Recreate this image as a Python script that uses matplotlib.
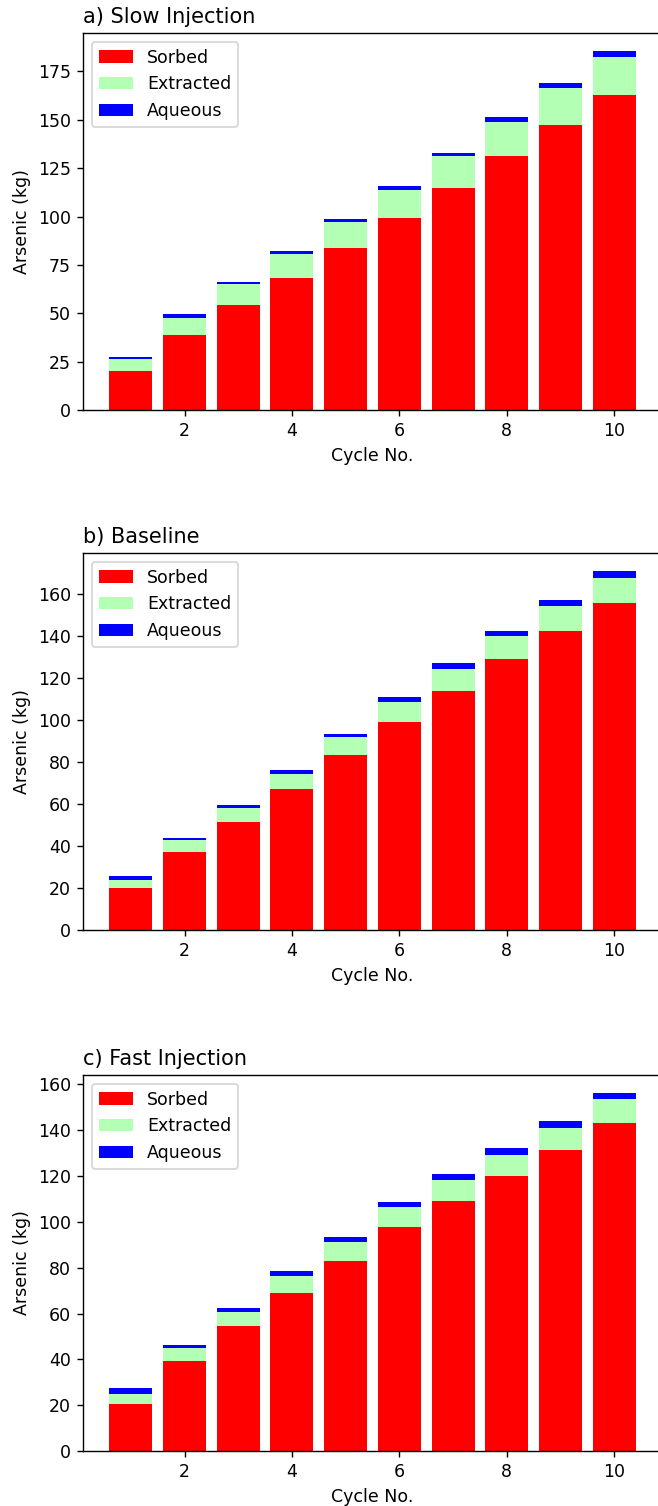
import numpy as np
import matplotlib
matplotlib.use("Agg")
import matplotlib.pyplot as plt

# Ciclos
ciclos = np.arange(1, 11)

# a) Slow Injection
slow_sorbed = [20.4, 38.8, 54.2, 68.2, 83.5, 99.0, 114.8, 131.3, 147.5, 162.9]
slow_extracted = [5.9, 8.5, 10.7, 12.3, 13.6, 14.8, 16.3, 17.4, 18.9, 19.6]
slow_aqueous = [1.1, 2.2, 1.4, 1.8, 1.6, 2.0, 1.9, 2.5, 2.8, 3.1]

# b) Baseline
base_sorbed = [20.1, 37.0, 51.5, 67.0, 83.3, 99.2, 114.0, 128.9, 142.6, 155.5]
base_extracted = [3.8, 5.7, 6.6, 7.3, 8.4, 9.6, 10.1, 11.0, 11.6, 12.0]
base_aqueous = [1.8, 1.3, 1.2, 1.8, 1.6, 2.0, 3.0, 2.7, 3.1, 3.5]

# c) Fast Injection
fast_sorbed = [20.7, 39.2, 54.4, 69.0, 82.9, 97.8, 109.2, 120.0, 131.3, 143.1]
fast_extracted = [4.1, 5.6, 6.4, 7.4, 8.2, 8.9, 9.2, 9.4, 9.8, 10.4]
fast_aqueous = [2.9, 1.4, 1.4, 2.0, 2.5, 1.9, 2.3, 2.8, 2.9, 2.8]

paneles = [
    ("a) Slow Injection", slow_sorbed, slow_extracted, slow_aqueous),
    ("b) Baseline", base_sorbed, base_extracted, base_aqueous),
    ("c) Fast Injection", fast_sorbed, fast_extracted, fast_aqueous),
]

W, H = 658, 1506
dpi = 125
fig = plt.figure(figsize=(W / dpi, H / dpi), dpi=dpi)

# posiciones de los ejes en pixeles (izq, arriba, abajo)
left_px, right_px = 83, 662
tops = [33, 553, 1075]
bottoms = [410, 930, 1451]

for (titulo, sorbed, extracted, aqueous), top, bottom in zip(paneles, tops, bottoms):
    ax = fig.add_axes([left_px / W, 1 - bottom / H,
                       (right_px - left_px) / W, (bottom - top) / H])
    sorbed = np.array(sorbed)
    extracted = np.array(extracted)
    aqueous = np.array(aqueous)
    ax.bar(ciclos, sorbed, color="red", label="Sorbed")
    ax.bar(ciclos, extracted, bottom=sorbed, color="#b3ffb3", label="Extracted")
    ax.bar(ciclos, aqueous, bottom=sorbed + extracted, color="blue", label="Aqueous")
    ax.set_title(titulo, loc="left", fontsize=12)
    ax.set_xlabel("Cycle No.")
    ax.set_ylabel("Arsenic (kg)")
    ax.set_xticks([2, 4, 6, 8, 10])
    ax.legend(loc="upper left")

fig.savefig("out.png", dpi=dpi)
